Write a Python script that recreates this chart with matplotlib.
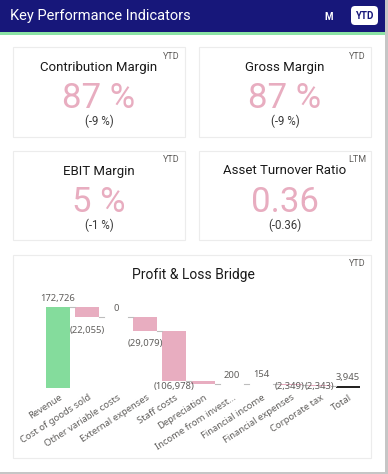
import matplotlib
matplotlib.use("Agg")
import matplotlib.pyplot as plt
from matplotlib.patches import Rectangle, FancyBboxPatch

# ---- data ----
kpi_titles = ["Contribution Margin", "Gross Margin", "EBIT Margin", "Asset Turnover Ratio"]
kpi_values = ["87 %", "87 %", "5 %", "0.36"]
kpi_deltas = ["(-9 %)", "(-9 %)", "(-1 %)", "(-0.36)"]
kpi_tags = ["YTD", "YTD", "YTD", "LTM"]

pl_categories = ["Revenue", "Cost of goods sold", "Other variable costs", "External expenses",
                 "Staff costs", "Depreciation", "Income from invest...", "Financial income",
                 "Financial expenses", "Corporate tax", "Total"]
pl_values = [172726, -22055, 0, -29079, -106978, -6331, 200, 154, -2349, -2343, 3945]
pl_hidden_labels = ["Depreciation"]

NAVY = "#17177a"
GREEN = "#84dc9c"
PINK = "#e8adc0"
DARK = "#252423"
GREY = "#605e5c"

W, H = 388, 474
fig = plt.figure(figsize=(W / 100, H / 100), dpi=100)
fig.patch.set_facecolor("white")

# overlay axes in pixel coords (y down)
bg = fig.add_axes([0, 0, 1, 1])
bg.set_xlim(0, W)
bg.set_ylim(H, 0)
bg.axis("off")

bg.add_patch(Rectangle((385, 0), 3, H, color="#c6c6c6", lw=0))
bg.add_patch(Rectangle((0, 472), W, 2, color="#c6c6c6", lw=0))
bg.add_patch(Rectangle((0, 0), 385, 32, color=NAVY, lw=0))
bg.add_patch(Rectangle((0, 32), 385, 2.5, color="#8be3a5", lw=0))

bg.text(10, 16, "Key Performance Indicators", color="white", fontsize=10.5,
        family="Roboto", va="center", ha="left")
bg.text(329, 16.5, "M", color="white", fontsize=7, weight="bold", family="Roboto",
        va="center", ha="center")
bg.add_patch(FancyBboxPatch((351, 6), 27, 19, boxstyle="round,pad=0,rounding_size=4",
                            fc="white", ec="none"))
bg.text(364.5, 16, "YTD", color=NAVY, fontsize=7, weight="bold", family="Roboto",
        va="center", ha="center")


def card(x0, y0, x1, y1):
    bg.add_patch(Rectangle((x0, y0), x1 - x0, y1 - y0, fc="white", ec="#ececec", lw=0.8))


card_pos = [(13, 47, 185, 137), (199, 47, 371, 137), (13, 151, 185, 240), (199, 151, 371, 240)]
for i, (x0, y0, x1, y1) in enumerate(card_pos):
    card(x0, y0, x1, y1)
    cx = (x0 + x1) / 2
    bg.text(x1 - 5, y0 + 9, kpi_tags[i], color=GREY, fontsize=6.5, family="Roboto",
            ha="right", va="center")
    bg.text(cx, y0 + 20, kpi_titles[i], color="#1a1a1a", fontsize=9.5, family="Roboto",
            ha="center", va="center")
    bg.text(cx, y0 + 51, kpi_values[i], color=PINK, fontsize=25, family="Roboto",
            ha="center", va="center")
    bg.text(cx, y0 + 74, kpi_deltas[i], color="#3a3a3a", fontsize=8.3, family="Roboto",
            ha="center", va="center")

card(13, 255, 371, 458)
bg.text(366, 263, "YTD", color=GREY, fontsize=6.5, family="Roboto", ha="right", va="center")
bg.text(193, 275, "Profit & Loss Bridge", color="#1a1a1a", fontsize=10, family="Roboto",
        ha="center", va="center")

# ---- waterfall ----
step = 29.0
ax_l, ax_r, ax_top, ax_base = 40, 366, 295, 388
ax = fig.add_axes([ax_l / W, (H - ax_base) / H, (ax_r - ax_l) / W, (ax_base - ax_top) / H])
ax.set_xlim(-(58 - ax_l) / step, 10 + (ax_r - 348) / step)
top_val = pl_values[0] * (ax_base - ax_top) / 81.0
ax.set_ylim(0, top_val)
ax.axis("off")
upp = top_val / (ax_base - ax_top)  # data units per pixel

n = len(pl_values)
bw = 24 / step
level = 0
prev_end = None
for i, (cat, v) in enumerate(zip(pl_categories, pl_values)):
    if i == 0:
        bottom, height, color = 0, v, GREEN
        level = v
    elif i == n - 1:
        bottom, height, color = 0, v, DARK
    else:
        bottom = min(level, level + v)
        height = abs(v)
        color = PINK if v < 0 else GREEN
        level = level + v
    if i == n - 1:
        ax.bar(i, max(height, 1.6 * upp), bottom=bottom, width=bw, color=color, lw=0)
    else:
        ax.bar(i, height, bottom=bottom, width=bw, color=color, lw=0)

    if prev_end is not None:
        ax.plot([i - 1 + bw / 2, i - bw / 2], [prev_end, prev_end], color="#bdbdbd", lw=0.8)
    prev_end = level if i < n - 1 else v

    ax.annotate(cat, (i, 0), xytext=(1, -5), textcoords="offset pixels",
                ha="right", va="top", rotation=33, rotation_mode="anchor",
                fontsize=6.8, color=GREY, family="Noto Sans", annotation_clip=False)

    if cat in pl_hidden_labels:
        continue
    txt = f"{v:,}" if v >= 0 else f"({-v:,})"
    if v >= 0:
        ax.annotate(txt, (i, bottom + height), xytext=(0, 9), textcoords="offset pixels",
                    ha="center", va="center", fontsize=6.8, color=GREY, family="Noto Sans",
                    annotation_clip=False)
    else:
        if bottom / upp - 13 < 1:
            anchor, off = 0, 1
        else:
            anchor, off = bottom, -13
        ax.annotate(txt, (i, anchor), xytext=(0, off), textcoords="offset pixels",
                    ha="center", va="center", fontsize=6.8, color=GREY, family="Noto Sans",
                    annotation_clip=False)

fig.savefig("out.png", dpi=100, facecolor="white")
